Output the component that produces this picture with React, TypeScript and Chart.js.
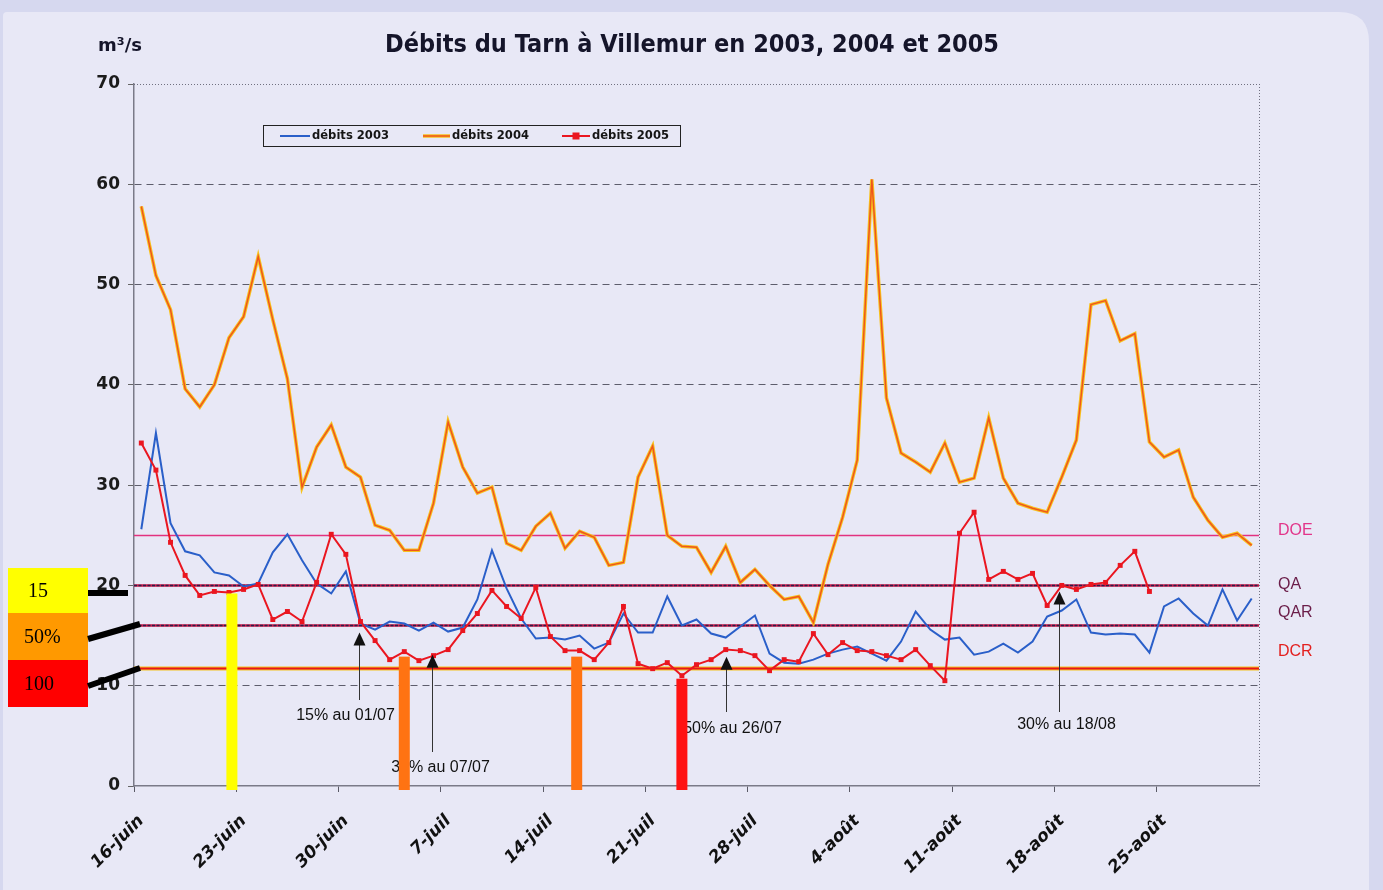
import React, { useEffect, useRef } from 'react';
import { Chart, registerables } from 'chart.js';

Chart.register(...registerables);

// ---- categories (16 juin -> 31 août) ----
const months = [
  { name: 'juin', from: 16, to: 30 },
  { name: 'juil', from: 1, to: 31 },
  { name: 'août', from: 1, to: 31 },
];
const dates: string[] = [];
months.forEach((m) => {
  for (let d = m.from; d <= m.to; d++) dates.push(`${d}-${m.name}`);
});
const labelEvery = 7;

// ---- series (m3/s) ----
const flow2003 = [
  25.6, 35.2, 26.2, 23.4, 23.0, 21.3, 21.0, 19.9, 20.2, 23.3, 25.1, 22.5, 20.2, 19.2, 21.4, 16.2, 15.6, 16.4, 16.2, 15.5,
  16.3, 15.4, 15.8, 18.6, 23.5, 19.7, 16.7, 14.7, 14.8, 14.6, 15.0, 13.7, 14.3, 17.2, 15.3, 15.3, 18.9, 16.0, 16.6,
  15.2, 14.8, 15.9, 17.0, 13.2, 12.3, 12.2, 12.6, 13.2, 13.6, 13.9, 13.2, 12.5, 14.4, 17.4, 15.6, 14.6, 14.8, 13.1,
  13.4, 14.2, 13.3, 14.4, 16.9, 17.5, 18.6, 15.3, 15.1, 15.2, 15.1, 13.3, 17.9, 18.7, 17.2, 16.0, 19.6, 16.5, 18.7,
];
const flow2004 = [
  57.8, 50.9, 47.5, 39.6, 37.8, 40.0, 44.7, 46.8, 52.8, 46.5, 40.6, 29.8, 33.8, 36.0, 31.8, 30.8, 26.0, 25.5, 23.5, 23.5,
  28.2, 36.3, 31.8, 29.2, 29.8, 24.2, 23.5, 25.9, 27.2, 23.7, 25.4, 24.8, 22.0, 22.3, 30.8, 33.9, 25.0, 23.9, 23.8,
  21.3, 23.9, 20.3, 21.6, 20.0, 18.6, 18.9, 16.3, 22.1, 26.8, 32.5, 60.5, 38.7, 33.2, 32.3, 31.3, 34.2, 30.3, 30.7,
  36.7, 30.7, 28.2, 27.7, 27.3, 30.8, 34.5, 48.0, 48.4, 44.4, 45.1, 34.3, 32.8, 33.5, 28.8, 26.5, 24.8, 25.2, 24.0,
];
const flow2005 = [
  34.2, 31.5, 24.3, 21.0, 19.0, 19.4, 19.3, 19.6, 20.1, 16.6, 17.4, 16.4, 20.3, 25.1, 23.1, 16.4, 14.5, 12.6, 13.4, 12.5,
  13.0, 13.6, 15.5, 17.2, 19.5, 17.9, 16.7, 19.8, 14.9, 13.5, 13.5, 12.6, 14.3, 17.9, 12.2, 11.7, 12.3, 11.0, 12.1,
  12.6, 13.6, 13.5, 13.0, 11.5, 12.6, 12.4, 15.2, 13.1, 14.3, 13.5, 13.4, 13.0, 12.6, 13.6, 12.0, 10.5, 25.2, 27.3,
  20.6, 21.4, 20.6, 21.2, 18.0, 20.0, 19.6, 20.1, 20.3, 22.0, 23.4, 19.4,
];
const seriesNames = ['débits 2003', 'débits 2004', 'débits 2005'];

// ---- y ticks ----
const yMin = 0;
const yMax = 70;
const yStep = 10;

// ---- reference thresholds ----
const refNames = ['DOE', 'QA', 'QAR', 'DCR'];
const refValues = [25, 20, 16.1, 11.8];
const refLabelColors = ['#e2358a', '#6a1c48', '#6a1c48', '#e3201f'];

// ---- restriction bars (category position, top value) ----
const restrictIdx = [6.2, 18, 29.8, 37];
const restrictTop = [19.2, 12.9, 12.9, 10.7];
const restrictColors = ['#ffff00', '#ff7312', '#ff7312', '#ff1212'];

// ---- annotations ----
const annotLabels = ['15% au 01/07', '30% au 07/07', '50% au 26/07', '30% au 18/08'];
const annotIdx = [14.9, 19.9, 40, 62.8];
const annotTip = [15.3, 13.1, 12.9, 19.4];

// ---- left boxes ----
const boxLabels = ['15', '50%', '100'];
const boxColors = ['#ffff00', '#ff9900', '#ff0000'];

const TITLE = 'Débits du Tarn à Villemur en 2003, 2004 et 2005';

const decor = {
  id: 'decor',
  beforeDraw(chart: any) {
    const { ctx, width, height } = chart;
    ctx.save();
    ctx.fillStyle = '#d6d8ef';
    ctx.fillRect(0, 0, width, height);
    ctx.fillStyle = '#e8e8f6';
    const x0 = 3, y0 = 12, x1 = 1369, y1 = height + 10, r = 30;
    ctx.beginPath();
    ctx.moveTo(x0 + 4, y0);
    ctx.lineTo(x1 - r, y0);
    ctx.quadraticCurveTo(x1, y0, x1, y0 + r);
    ctx.lineTo(x1, y1);
    ctx.lineTo(x0, y1);
    ctx.lineTo(x0, y0 + 4);
    ctx.quadraticCurveTo(x0, y0, x0 + 4, y0);
    ctx.closePath();
    ctx.fill();
    ctx.restore();
  },
  beforeDatasetsDraw(chart: any) {
    const { ctx, chartArea: a, scales } = chart;
    const y = scales.y;
    ctx.save();
    refValues.forEach((v, i) => {
      const py = Math.round(y.getPixelForValue(v)) + 0.5;
      const line = (color: string, w: number, dash: number[]) => {
        ctx.strokeStyle = color;
        ctx.lineWidth = w;
        ctx.setLineDash(dash);
        ctx.beginPath();
        ctx.moveTo(a.left, py);
        ctx.lineTo(a.right, py);
        ctx.stroke();
      };
      if (refNames[i] === 'DOE') {
        line('#e2327f', 1.6, []);
      } else if (refNames[i] === 'DCR') {
        line('#f3c21a', 4, []);
        line('#e8141c', 2, []);
      } else {
        line('#c81a48', 2.6, []);
        line('#2b1e4a', 1.4, [3, 1.5]);
      }
    });
    ctx.restore();
  },
  afterDatasetsDraw(chart: any) {
    const { ctx, chartArea: a, scales } = chart;
    const x = scales.x;
    const y = scales.y;
    ctx.save();
    // annotations
    const arrowBottom = [700, 752, 712, 712];
    const textDx = [-14, 8, 6, 7];
    const textY = [716, 768, 729, 725];
    annotLabels.forEach((t, i) => {
      const px = Math.round(x.getPixelForValue(annotIdx[i])) + 0.5;
      const tip = y.getPixelForValue(annotTip[i]);
      ctx.strokeStyle = '#333';
      ctx.lineWidth = 1;
      ctx.setLineDash([]);
      ctx.beginPath();
      ctx.moveTo(px, arrowBottom[i]);
      ctx.lineTo(px, tip + 10);
      ctx.stroke();
      ctx.fillStyle = '#111';
      ctx.beginPath();
      ctx.moveTo(px, tip);
      ctx.lineTo(px - 6, tip + 13);
      ctx.lineTo(px + 6, tip + 13);
      ctx.closePath();
      ctx.fill();
      ctx.font = '16px "Liberation Sans"';
      ctx.textAlign = 'center';
      ctx.textBaseline = 'middle';
      ctx.fillText(t, px + textDx[i], textY[i]);
    });
    // restriction bars
    restrictIdx.forEach((idx, i) => {
      const cx = x.getPixelForValue(idx);
      const top = y.getPixelForValue(restrictTop[i]);
      ctx.fillStyle = restrictColors[i];
      ctx.fillRect(cx - 5.5, top, 11, a.bottom + 4 - top);
    });
    ctx.restore();
  },
  afterDraw(chart: any) {
    const { ctx, chartArea: a } = chart;
    ctx.save();
    // dotted plot border top and right
    ctx.strokeStyle = '#707080';
    ctx.lineWidth = 1;
    ctx.setLineDash([1, 2]);
    ctx.beginPath();
    ctx.moveTo(a.left, Math.round(a.top) + 0.5);
    ctx.lineTo(a.right, Math.round(a.top) + 0.5);
    ctx.moveTo(Math.round(a.right) + 0.5, a.top);
    ctx.lineTo(Math.round(a.right) + 0.5, a.bottom);
    ctx.stroke();
    ctx.setLineDash([]);

    // title
    ctx.fillStyle = '#15152a';
    ctx.textAlign = 'center';
    ctx.textBaseline = 'middle';
    ctx.font = 'bold 24px "DejaVu Sans"';
    ctx.fillText(TITLE, 692, 46, 614);
    // unit
    ctx.textAlign = 'left';
    ctx.font = 'bold 18px "DejaVu Sans"';
    ctx.fillText('m³/s', 98, 46, 48);

    // legend
    ctx.strokeStyle = '#222';
    ctx.lineWidth = 1;
    ctx.strokeRect(263.5, 125.5, 417, 21);
    const ly = 136;
    ctx.lineWidth = 2;
    ctx.strokeStyle = '#2a5fc9';
    ctx.beginPath(); ctx.moveTo(280, ly); ctx.lineTo(310, ly); ctx.stroke();
    ctx.strokeStyle = '#f7c21e';
    ctx.lineWidth = 3.5;
    ctx.beginPath(); ctx.moveTo(423, ly); ctx.lineTo(450, ly); ctx.stroke();
    ctx.strokeStyle = '#ef561c';
    ctx.lineWidth = 1.5;
    ctx.beginPath(); ctx.moveTo(423, ly); ctx.lineTo(450, ly); ctx.stroke();
    ctx.strokeStyle = '#ea1620';
    ctx.lineWidth = 2;
    ctx.beginPath(); ctx.moveTo(562, ly); ctx.lineTo(590, ly); ctx.stroke();
    ctx.fillStyle = '#ea1620';
    ctx.fillRect(572.5, ly - 3.5, 7, 7);
    ctx.fillStyle = '#151515';
    ctx.font = 'bold 12px "DejaVu Sans"';
    ctx.textBaseline = 'middle';
    ctx.fillText(seriesNames[0], 312, ly, 77);
    ctx.fillText(seriesNames[1], 452, ly, 77);
    ctx.fillText(seriesNames[2], 592, ly, 77);

    // threshold labels
    const labelY = [531, 585, 613, 652];
    ctx.font = '16px "Liberation Sans"';
    refNames.forEach((n, i) => {
      ctx.fillStyle = refLabelColors[i];
      ctx.fillText(n, 1278, labelY[i]);
    });

    // left boxes
    const boxY = [568, 613, 660];
    const boxH = [45, 47, 47];
    const textX = [28, 24, 24];
    boxLabels.forEach((t, i) => {
      ctx.fillStyle = boxColors[i];
      ctx.fillRect(8, boxY[i], 80, boxH[i]);
      ctx.fillStyle = '#000';
      ctx.font = '20px "Liberation Serif"';
      ctx.fillText(t, textX[i], boxY[i] + boxH[i] / 2 + 1);
    });
    ctx.strokeStyle = '#000';
    ctx.lineWidth = 6;
    ctx.beginPath();
    ctx.moveTo(88, 593); ctx.lineTo(128, 593);
    ctx.moveTo(88, 639); ctx.lineTo(140, 624);
    ctx.moveTo(88, 686); ctx.lineTo(140, 668);
    ctx.stroke();
    ctx.restore();
  },
};

export default function App() {
  const ref = useRef<HTMLCanvasElement | null>(null);
  useEffect(() => {
    if (!ref.current) return;
    const tickCol = (c: any) => (c.index % labelEvery === 0 ? '#5a5a66' : 'rgba(0,0,0,0)');
    const chart = new Chart(ref.current, {
      type: 'line',
      data: {
        labels: dates,
        datasets: [
          {
            label: seriesNames[2], data: flow2005, borderColor: '#ea1620', backgroundColor: '#ea1620',
            borderWidth: 2, pointStyle: 'rect', pointRadius: 3.5, pointBorderWidth: 0, order: 0,
          },
          {
            label: seriesNames[0], data: flow2003, borderColor: '#2a5fc9', borderWidth: 2, pointRadius: 0, order: 1,
          },
          {
            label: seriesNames[1], data: flow2004, borderColor: '#ef561c', borderWidth: 1.5, pointRadius: 0, order: 2,
          },
          {
            label: 'halo', data: flow2004, borderColor: '#f7c21e', borderWidth: 3.5, pointRadius: 0, order: 3,
          },
        ],
      } as any,
      options: {
        animation: false,
        responsive: false,
        devicePixelRatio: 1,
        layout: { padding: { left: 0, right: 124, top: 84, bottom: 0 } },
        plugins: { legend: { display: false }, title: { display: false }, tooltip: { enabled: false } },
        elements: { line: { tension: 0 } },
        scales: {
          x: {
            type: 'category',
            offset: true,
            grid: {
              display: true, drawOnChartArea: false, drawTicks: true, tickLength: 6, offset: true,
              color: tickCol, tickColor: tickCol,
            },
            border: { display: true, color: '#7a7a88', width: 1.5 },
            ticks: {
              autoSkip: false, maxRotation: 45, minRotation: 45, padding: 19, color: '#111',
              font: { family: 'DejaVu Sans', size: 17, style: 'italic', weight: 'bold' },
              callback: (_v: any, i: number) => (i % labelEvery === 0 ? dates[i] : ''),
            },
            afterFit: (s: any) => { s.height = 104; },
          },
          y: {
            min: yMin, max: yMax,
            ticks: {
              stepSize: yStep, padding: 8, color: '#1b1b1b',
              font: { family: 'DejaVu Sans', size: 17, weight: 'bold' },
            },
            grid: {
              color: (c: any) => (c.tick && (c.tick.value === yMin || c.tick.value === yMax) ? 'rgba(0,0,0,0)' : '#5d5d6c'),
              lineWidth: 1, drawTicks: true, tickLength: 6, tickColor: '#666', tickBorderDash: [],
            },
            border: { display: true, color: '#7a7a88', width: 1.5, dash: [7, 5] },
            afterFit: (s: any) => { s.width = 134; },
          },
        },
      } as any,
      plugins: [decor],
    });
    return () => chart.destroy();
  }, []);
  return (
    <div style={{ position: 'fixed', left: 0, top: 0, width: 1383, height: 890 }}>
      <canvas ref={ref} width={1383} height={890} style={{ display: 'block', width: 1383, height: 890 }} />
    </div>
  );
}
